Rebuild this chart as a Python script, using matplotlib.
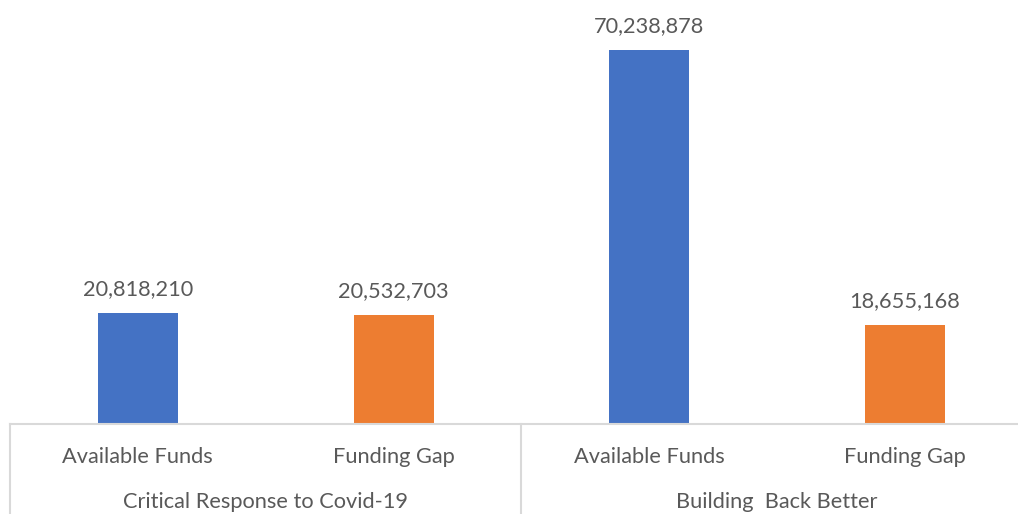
import matplotlib
matplotlib.use("Agg")
import matplotlib.pyplot as plt
import matplotlib.transforms as mtransforms

groups = ["Critical Response to Covid-19", "Building  Back Better"]
categories = ["Available Funds", "Funding Gap", "Available Funds", "Funding Gap"]
values = [20818210, 20532703, 70238878, 18655168]
colors = ["#4472C4", "#ED7D31", "#4472C4", "#ED7D31"]

W, H = 1018, 514
fig = plt.figure(figsize=(W / 100, H / 100), dpi=100)
left_px, base_px = 10, 424
cat_w = 255.7
ax = fig.add_axes([left_px / W, (H - base_px) / H, 1 - left_px / W, base_px / H])

x = list(range(len(values)))
ax.bar(x, values, width=80 / cat_w, color=colors, zorder=2)
ax.set_xlim(-0.5, -0.5 + (W - left_px) / cat_w)
scale = 374 / values[2]
ax.set_ylim(0, base_px / scale)

txt = "#595959"
font = "Lato"
fs = 15.7
for xi, v in zip(x, values):
    ax.annotate(f"{v:,}", (xi, v), xytext=(0, 10), textcoords="offset points",
                ha="center", va="bottom", fontsize=fs, color=txt, family=font)

for s in ax.spines.values():
    s.set_visible(False)
ax.set_xticks([])
ax.set_yticks([])

trans = mtransforms.blended_transform_factory(ax.transData, ax.transAxes)
ax.plot([-0.5, 3.6], [0, 0], transform=trans, color="#D9D9D9", lw=1.5, clip_on=False, zorder=3)
for xv in [-0.5, 1.5, 3.5]:
    ax.plot([xv, xv], [0, -0.25], transform=trans, color="#D9D9D9", lw=1.5, clip_on=False)

px = 1.0 / base_px
for xi, c in zip(x, categories):
    ax.text(xi, -(457 - base_px) * px, c, transform=trans, ha="center", va="center",
            fontsize=fs, color=txt, family=font)
for gi, g in enumerate(groups):
    ax.text(0.5 + 2 * gi, -(502 - base_px) * px, g, transform=trans, ha="center", va="center",
            fontsize=fs, color=txt, family=font)

fig.savefig("out.png", dpi=100)
